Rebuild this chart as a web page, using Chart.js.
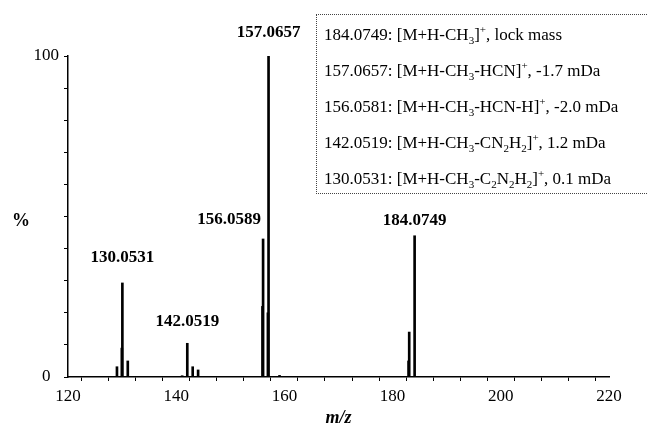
<!DOCTYPE html>
<html>
<head>
<meta charset="utf-8">
<script src="https://cdn.jsdelivr.net/npm/chart.js@4.4.0/dist/chart.umd.min.js"></script>
<style>
  html, body { margin: 0; padding: 0; background: #fff; }
  #wrap { position: relative; width: 647px; height: 437px; }
  #legend {
    position: absolute; left: 316px; top: 14px; width: 331px; height: 180px;
    border: 1px dotted #444; border-right: none; box-sizing: border-box;
    font-family: "Liberation Serif", "Times New Roman", serif; font-size: 17px; color: #000;
    padding: 10px 0 0 7px;
  }
  #legend div { height: 36px; line-height: 20px; white-space: nowrap; }
  #legend sub, #legend sup { font-size: 11px; line-height: 0; }
</style>
</head>
<body>
<div id="wrap">
  <canvas id="spectrum" width="647" height="437"></canvas>
  <div id="legend">
    <div>184.0749: [M+H-CH<sub>3</sub>]<sup>+</sup>, lock mass</div>
    <div>157.0657: [M+H-CH<sub>3</sub>-HCN]<sup>+</sup>, -1.7 mDa</div>
    <div>156.0581: [M+H-CH<sub>3</sub>-HCN-H]<sup>+</sup>, -2.0 mDa</div>
    <div>142.0519: [M+H-CH<sub>3</sub>-CN<sub>2</sub>H<sub>2</sub>]<sup>+</sup>, 1.2 mDa</div>
    <div>130.0531: [M+H-CH<sub>3</sub>-C<sub>2</sub>N<sub>2</sub>H<sub>2</sub>]<sup>+</sup>, 0.1 mDa</div>
  </div>
</div>
<script>
// peak list (m/z, relative intensity %)
const peakMz = [129.05, 129.95, 130.05, 131.05, 141.1, 142.05, 143.05, 144.05, 155.95, 156.06, 156.95, 157.07, 159.1, 182.95, 183.07, 184.07];
const peakInt = [3.2, 9, 29.3, 5, 0.4, 10.5, 3.2, 2.2, 22, 43, 20, 100, 0.5, 5, 14, 44];

// annotated peaks
const labelMz = [130.05, 142.05, 156.06, 157.07, 184.07];
const labelInt = [29.3, 10.5, 43, 100, 44];
const labelText = ['130.0531', '142.0519', '156.0589', '157.0657', '184.0749'];

const xTicksShown = [120, 140, 160, 180, 200, 220];
const yTicksShown = [0, 100];

const serif = '"Liberation Serif", "Times New Roman", serif';

const peakLabels = {
  id: 'peakLabels',
  afterDatasetsDraw(chart) {
    const { ctx, scales: { x, y }, chartArea } = chart;
    // gap above each peak top, and the 156 label sits left of its peak
    const gap = [17, 13, 11, 15, 7];
    ctx.save();
    ctx.fillStyle = '#000';
    ctx.font = 'bold 17px ' + serif;
    ctx.textBaseline = 'bottom';
    labelText.forEach((t, i) => {
      const px = x.getPixelForValue(labelMz[i]);
      const py = y.getPixelForValue(labelInt[i]);
      const right = t === '156.0589';
      ctx.textAlign = right ? 'right' : 'center';
      ctx.fillText(t, px + (right ? -2 : 0), py - gap[i]);
    });
    // axis titles
    ctx.textAlign = 'center';
    ctx.textBaseline = 'middle';
    ctx.font = 'bold 18px ' + serif;
    ctx.fillText('%', 21, (chartArea.top + chartArea.bottom) / 2 + 5);
    ctx.font = 'italic bold 18px ' + serif;
    ctx.fillText('m/z', (chartArea.left + chartArea.right) / 2, 418);
    ctx.restore();
  }
};

new Chart(document.getElementById('spectrum'), {
  type: 'bar',
  data: {
    datasets: [{
      data: peakMz.map((m, i) => ({ x: m, y: peakInt[i] })),
      backgroundColor: '#000',
      borderWidth: 0,
      barThickness: 2
    }]
  },
  options: {
    responsive: false,
    animation: false,
    layout: { padding: { top: 56, right: 38, left: 0, bottom: 0 } },
    plugins: { legend: { display: false }, tooltip: { enabled: false } },
    scales: {
      x: {
        type: 'linear',
        min: 120,
        max: 220,
        offset: false,
        afterFit: s => { s.height = 60; },
        border: { display: true, color: '#000', width: 1.5 },
        grid: { drawOnChartArea: false, drawTicks: true, tickLength: 4, color: '#000' },
        ticks: {
          stepSize: 5,
          autoSkip: false,
          maxRotation: 0,
          padding: 5,
          color: '#000',
          font: { family: serif, size: 17 },
          callback: v => xTicksShown.includes(v) ? String(v) : ''
        }
      },
      y: {
        min: 0,
        max: 100,
        afterFit: s => { s.width = 68; },
        border: { display: true, color: '#000', width: 1.5 },
        grid: { drawOnChartArea: false, drawTicks: true, tickLength: 4, color: '#000' },
        ticks: {
          stepSize: 10,
          autoSkip: false,
          padding: 5,
          crossAlign: 'center',
          color: '#000',
          font: { family: serif, size: 17 },
          callback: v => yTicksShown.includes(v) ? String(v) : ''
        }
      }
    }
  },
  plugins: [peakLabels]
});
</script>
</body>
</html>
